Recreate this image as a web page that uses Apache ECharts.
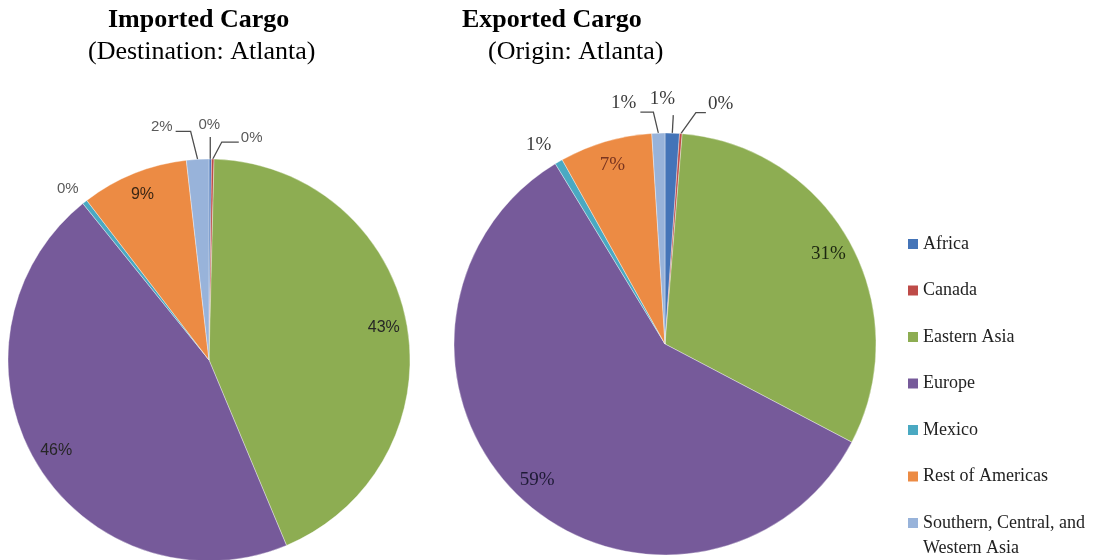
<!DOCTYPE html>
<html><head><meta charset="utf-8">
<script src="https://cdn.jsdelivr.net/npm/echarts@6/dist/echarts.min.js"></script>
<style>html,body{margin:0;padding:0;background:#fff}#chart{width:1119px;height:560px}</style>
</head><body><div id="chart"></div>
<script>
// ---- data ----
const categories = ['Africa', 'Canada', 'Eastern Asia', 'Europe', 'Mexico', 'Rest of Americas', 'Southern, Central, and Western Asia'];
const importedShares = [0.2, 0.2, 43.3, 45.5, 0.4, 8.6, 1.8];
const exportedShares = [1.1, 0.2, 31.4, 58.6, 0.6, 7.1, 1.0];
const pieTitles = ['Imported Cargo', 'Exported Cargo'];
const pieSubtitles = ['(Destination: Atlanta)', '(Origin: Atlanta)'];
const insideLabelled = ['Eastern Asia', 'Europe', 'Rest of Americas'];

// ---- styling ----
const sliceColors = ['#4474b8', '#be4b48', '#8dad52', '#765a9a', '#4aa9c2', '#ec8b44', '#98b3da'];
const insideLabelColors = {
  imported: {'Eastern Asia': '#262626', 'Europe': '#262626', 'Rest of Americas': '#3a2614'},
  exported: {'Eastern Asia': '#1c2610', 'Europe': '#1e1a35', 'Rest of Americas': '#7a3520'}
};
// leader line offsets relative to the library-computed point on the arc
const leadersImported = {
  'Africa': {line: [[0, -22]], label: [-1, -34], align: 'center'},
  'Canada': {line: [[9, -17], [26, -17]], label: [28, -21], align: 'left'},
  'Southern, Central, and Western Asia': {line: [[-7, -28], [-22, -28]], label: [-25, -32], align: 'right'},
  'Mexico': {line: [], label: [-17, -13], align: 'center'}
};
const leadersExported = {
  'Africa': {line: [[1, -18]], label: [-10, -34], align: 'center'},
  'Canada': {line: [[15, -21], [25, -21]], label: [27, -30], align: 'left'},
  'Southern, Central, and Western Asia': {line: [[-5, -21], [-18, -21]], label: [-22, -30], align: 'right'},
  'Mexico': {line: [], label: [-20, -17], align: 'center'}
};

function pctFormatter(p) { return Math.round(p.percent) + '%'; }

function makeLabelLayout(leaders) {
  return function (params) {
    const pts = params.labelLinePoints;
    const cfg = leaders[categories[params.dataIndex]];
    if (!pts || !cfg) return {};
    const p0 = pts[0];
    const linePts = [[p0[0], p0[1]]].concat(cfg.line.map(d => [p0[0] + d[0], p0[1] + d[1]]));
    while (linePts.length < 3) linePts.push(linePts[linePts.length - 1].slice());
    return {
      x: p0[0] + cfg.label[0], y: p0[1] + cfg.label[1],
      align: cfg.align, verticalAlign: 'middle',
      labelLinePoints: linePts
    };
  };
}

function mainSeries(name, shares, center, r, font, fontSize, labelColor, leaders) {
  return {
    type: 'pie', name: name, center: center, radius: r,
    startAngle: 90, clockwise: true, avoidLabelOverlap: false, silent: true,
    itemStyle: {borderColor: 'rgba(255,255,255,0.6)', borderWidth: 0.6},
    label: {show: true, position: 'outside', formatter: pctFormatter,
      fontFamily: font, fontSize: fontSize, color: labelColor},
    labelLine: {show: true, length: 10, length2: 5, lineStyle: {color: '#4d4d4d', width: 1.3}},
    labelLayout: makeLabelLayout(leaders),
    data: categories.map((c, i) => {
      const d = {name: c, value: shares[i], itemStyle: {color: sliceColors[i]}};
      if (insideLabelled.indexOf(c) >= 0) { d.label = {show: false}; d.labelLine = {show: false}; }
      if (c === 'Mexico') { d.labelLine = {show: true, lineStyle: {opacity: 0}}; }
      return d;
    })
  };
}

function insideSeries(name, shares, center, r, font, fontSize, colorMap) {
  return {
    type: 'pie', name: name, center: center, radius: [r * 0.74, r],
    startAngle: 90, clockwise: true, silent: true, avoidLabelOverlap: false,
    itemStyle: {color: 'rgba(0,0,0,0)', borderWidth: 0},
    label: {show: true, position: 'inside', formatter: pctFormatter, fontFamily: font, fontSize: fontSize},
    labelLine: {show: false},
    data: categories.map((c, i) => {
      const show = insideLabelled.indexOf(c) >= 0;
      return {name: c, value: shares[i], label: show ? {show: true, color: colorMap[c]} : {show: false}};
    })
  };
}

const chart = echarts.init(document.getElementById('chart'), null, {renderer: 'canvas'});
const titleBase = {padding: 0, textStyle: {fontFamily: 'Liberation Serif', fontSize: 26, color: '#000'}};
const lastName = categories[categories.length - 1];
const legendText = {fontFamily: 'Liberation Serif', fontSize: 18, color: '#222', lineHeight: 25};

chart.setOption({
  animation: false,
  backgroundColor: '#fff',
  title: [
    Object.assign({}, titleBase, {text: pieTitles[0], left: 108, top: 7, textStyle: Object.assign({}, titleBase.textStyle, {fontWeight: 'bold'})}),
    Object.assign({}, titleBase, {text: pieSubtitles[0], left: 88, top: 39, textStyle: Object.assign({}, titleBase.textStyle, {fontWeight: 'normal'})}),
    Object.assign({}, titleBase, {text: pieTitles[1], left: 462, top: 7, textStyle: Object.assign({}, titleBase.textStyle, {fontWeight: 'bold'})}),
    Object.assign({}, titleBase, {text: pieSubtitles[1], left: 488, top: 39, textStyle: Object.assign({}, titleBase.textStyle, {fontWeight: 'normal'})})
  ],
  legend: [
    {orient: 'vertical', left: 908, top: 231.5, padding: 0, itemWidth: 10, itemHeight: 10, itemGap: 21.5,
      icon: 'rect', itemStyle: {borderWidth: 0}, selectedMode: false,
      data: categories.slice(0, categories.length - 1), textStyle: legendText},
    {orient: 'vertical', left: 908, top: 485.5, padding: 0, itemWidth: 10, itemHeight: 10,
      icon: 'rect', itemStyle: {borderWidth: 0}, selectedMode: false,
      data: [lastName], formatter: n => '\n' + n.replace(', and ', ', and\n'),
      textStyle: legendText}
  ],
  series: [
    mainSeries('Imported', importedShares, [209, 360], 201, 'Liberation Sans', 15, '#5a5a5a', leadersImported),
    mainSeries('Exported', exportedShares, [665, 344], 211, 'Liberation Serif', 19, '#3a3a3a', leadersExported),
    insideSeries('Imported labels', importedShares, [209, 360], 201, 'Liberation Sans', 16, insideLabelColors.imported),
    insideSeries('Exported labels', exportedShares, [665, 344], 211, 'Liberation Serif', 19, insideLabelColors.exported)
  ]
});
</script></body></html>
